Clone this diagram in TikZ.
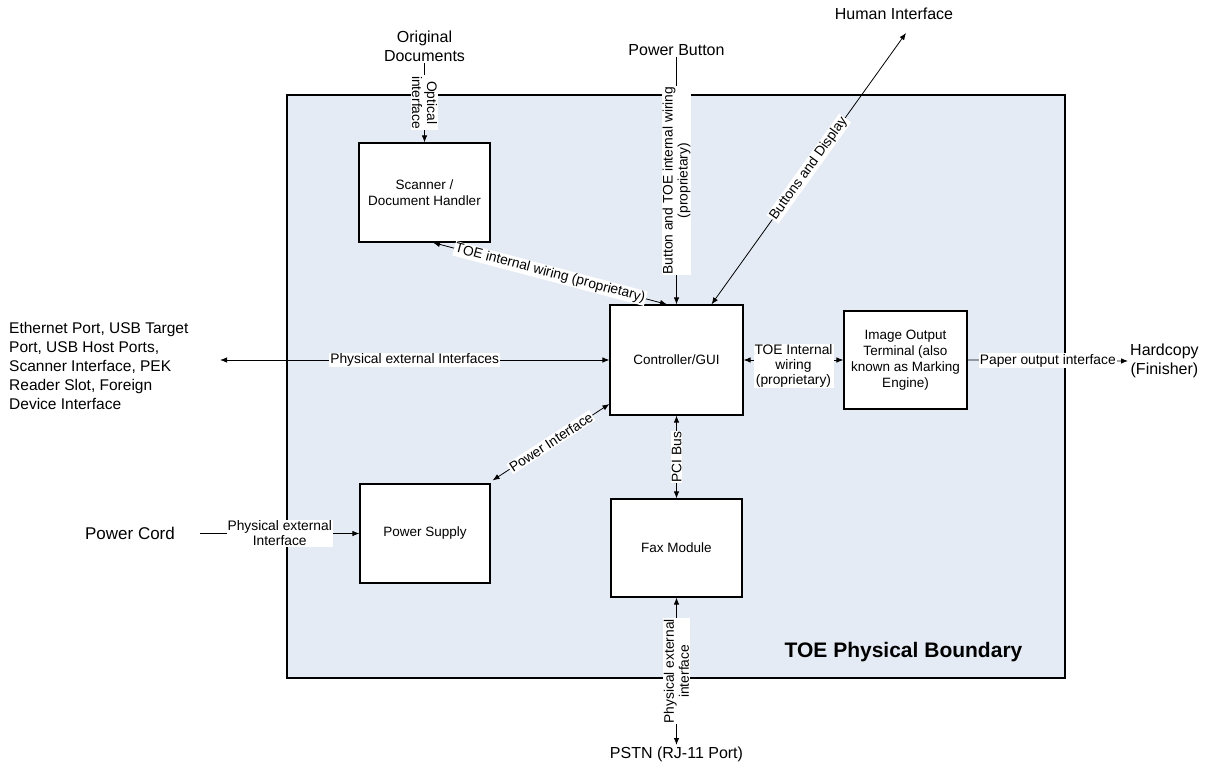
\documentclass[tikz,border=0pt]{standalone}
\usepackage{fontspec}
\setmainfont{Liberation Sans}
\usetikzlibrary{arrows.meta,calc}
\newcommand{\fsout}{\fontsize{16}{19}\selectfont}
\newcommand{\fsbox}{\fontsize{13.5}{16}\selectfont}
\newcommand{\fslab}{\fontsize{13.8}{15}\selectfont}
\newcommand{\fsbig}{\fontsize{21}{25}\selectfont\bfseries}
\definecolor{bndfill}{HTML}{E5EBF5}
\begin{document}
\begin{tikzpicture}[x=1pt,y=-1pt,
  >={Latex[length=7pt,width=5.5pt]},
  boundary/.style={draw, line width=1.3pt, fill=bndfill, inner sep=0pt},
  box/.style={draw, line width=1.2pt, fill=white, inner sep=2pt, align=center, font=\fsbox},
  outer/.style={font=\fsout, align=center, inner sep=1pt},
  lab/.style={fill=white, font=\fslab, inner sep=1pt, align=center},
  conn/.style={line width=0.8pt}
]
\useasboundingbox (0,0) rectangle (1223,771);

% boundary
\node[boundary, minimum width=778pt, minimum height=583pt] (bnd) at (676,386.5) {};
\node[font=\fsbig, anchor=center] (bndlabel) at (903.5,652) {TOE Physical Boundary};

% boxes
\node[box, minimum width=131pt, minimum height=99pt] (scanner) at (424.5,192.5) {Scanner /\\Document Handler};
\node[box, minimum width=133pt, minimum height=110pt] (ctrl) at (676.5,360) {Controller/GUI};
\node[box, minimum width=123pt, minimum height=98pt] (iot) at (905.5,360) {Image Output\\Terminal (also\\known as Marking\\Engine)};
\node[box, minimum width=130pt, minimum height=99pt] (psu) at (425,533.5) {Power Supply};
\node[box, minimum width=131pt, minimum height=98pt] (fax) at (676.5,548) {Fax Module};

% outer texts
\node[outer, anchor=south] (orig) at (424.5,63) {Original\\Documents};
\node[outer] (pbtn) at (676.5,50) {Power Button};
\node[outer] (human) at (894,14) {Human Interface};
\coordinate (hiEnd) at (906,33);
\node[outer, anchor=west, align=left, font=\fontsize{15.5}{19}\selectfont] (ports) at (8,366) {Ethernet Port, USB Target\\Port, USB Host Ports,\\Scanner Interface, PEK\\Reader Slot, Foreign\\Device Interface};
\coordinate (portsEnd) at (220,360);
\node[outer, anchor=west, inner sep=2pt] (hard) at (1128,361) {Hardcopy\\(Finisher)};
\node[outer, font=\fontsize{17}{20}\selectfont] (cord) at (130,533.5) {Power Cord};
\node[outer, anchor=north, inner sep=2pt] (pstn) at (676.5,745) {PSTN (RJ-11 Port)};

% connectors
\draw[conn, ->] (orig.south) -- node[lab, rotate=-90] {Optical\\interface} (scanner.north);
\draw[conn, ->] (pbtn.south) -- node[lab, rotate=90] {Button and TOE internal wiring\\(proprietary)} (ctrl.north);
\draw[conn, <->] ([xshift=35pt]ctrl.north) -- node[lab, sloped] {Buttons and Display} (hiEnd);
\draw[conn, <->] ([xshift=8.5pt]scanner.south) -- node[lab, sloped] {TOE internal wiring (proprietary)} ([xshift=-9.5pt]ctrl.north);
\draw[conn, <->] (portsEnd) -- node[lab] {Physical external Interfaces} (ctrl.west);
\draw[conn, <->] (ctrl.east) -- node[lab, yshift=-6pt] {TOE Internal\\wiring\\(proprietary)} (iot.west);
\draw[conn, ->] (iot.east) -- node[lab] {Paper output interface} (hard.west);
\draw[conn, ->] ([xshift=24pt]cord.east) -- node[lab] {Physical external\\Interface} (psu.west);
\draw[conn, <->] ([xshift=2pt,yshift=3pt]psu.north east) -- node[lab, sloped] {Power Interface} ([yshift=-44pt]ctrl.west);
\draw[conn, <->] (ctrl.south) -- node[lab, rotate=90] {PCI Bus} (fax.north);
\draw[conn, <->] (fax.south) -- node[lab, rotate=90] {Physical external\\interface} (pstn.north);
\end{tikzpicture}
\end{document}
